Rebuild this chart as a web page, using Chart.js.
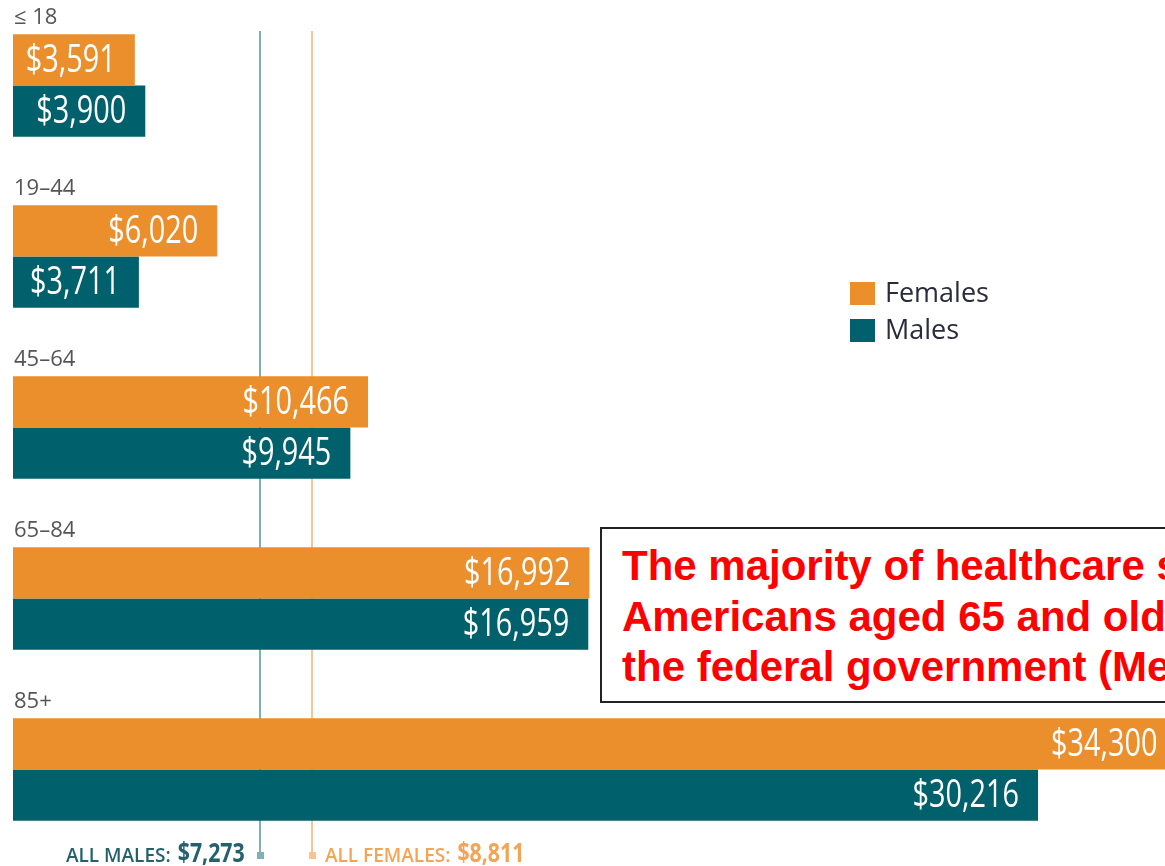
<!DOCTYPE html>
<html>
<head>
<meta charset="utf-8">
<script src="https://cdn.jsdelivr.net/npm/chart.js@4/dist/chart.umd.min.js"></script>
<style>
  html, body { margin: 0; padding: 0; background: #fff; overflow: hidden; }
  #wrap { position: relative; width: 1165px; height: 866px; }
  #legend { position: absolute; left: 850px; top: 276px; font-family: "Open Sans", sans-serif; font-size: 27px; color: #2b2b3b; }
  #legend div { height: 37px; line-height: 32px; }
  #legend span { display: inline-block; width: 25px; height: 23px; vertical-align: -3px; margin-right: 10px; }
  #note { position: absolute; left: 600px; top: 527px; width: 700px; height: 176px; border: 2px solid #222; background: #fff;
    font-family: "Liberation Sans", Arial, sans-serif; font-weight: bold; font-size: 42px; color: #ff0000;
    line-height: 50.5px; padding: 12px 0 0 20px; box-sizing: border-box; white-space: nowrap; }
</style>
</head>
<body>
<div id="wrap">
  <canvas id="chart" width="1165" height="866"></canvas>
  <div id="legend">
    <div><span style="background:#ea8f2b"></span>Females</div>
    <div><span style="background:#00606b"></span>Males</div>
  </div>
  <div id="note">The majority of healthcare spending for<br>Americans aged 65 and older is paid by<br>the federal government (Medicare)</div>
</div>
<script>
var ageGroups = ["≤ 18", "19–44", "45–64", "65–84", "85+"]
var females = [3591, 6020, 10466, 16992, 34300]
var males = [3900, 3711, 9945, 16959, 30216]
var allMales = 7273
var allFemales = 8811

var orange = "#ea8f2b"
var teal = "#00606b"

function money(v) {
  return "$" + v.toLocaleString("en-US")
}

// squeeze text horizontally, the original uses a condensed face
function narrowText(c, text, x, y, sx) {
  c.save()
  c.translate(x, y)
  c.scale(sx, 1)
  c.fillText(text, 0, 0)
  var w = c.measureText(text).width * sx
  c.restore()
  return w
}

var labelsPlugin = {
  id: "labels",
  beforeDatasetsDraw: function(chart) {
    var c = chart.ctx
    var x = chart.scales.x
    var lines = [[allMales, "#7fb0b8"], [allFemales, "#f8c58c"]]
    c.save()
    lines.forEach(function(l) {
      var px = Math.round(x.getPixelForValue(l[0]))
      c.fillStyle = l[1]
      c.fillRect(px - 1, 31, 2, 822)
      c.fillRect(px - 3, 852, 7, 7)
    })
    c.restore()
  },
  afterDatasetsDraw: function(chart) {
    var c = chart.ctx
    var x = chart.scales.x
    c.save()
    // value labels inside bar ends
    c.font = "39px 'Open Sans', sans-serif"
    c.fillStyle = "#fff"
    c.textAlign = "right"
    c.textBaseline = "middle"
    chart.data.datasets.forEach(function(ds, di) {
      chart.getDatasetMeta(di).data.forEach(function(bar, i) {
        var end = x.getPixelForValue(ds.data[i])
        narrowText(c, money(ds.data[i]), end - 19, bar.y + 1, 0.74)
      })
    })
    // category labels above each group
    c.font = "22px 'Open Sans', sans-serif"
    c.fillStyle = "#555"
    c.textAlign = "left"
    chart.getDatasetMeta(0).data.forEach(function(bar, i) {
      c.fillText(ageGroups[i], 14, bar.y - bar.height / 2 - 16)
    })
    // bottom averages
    var mx = x.getPixelForValue(allMales)
    var fx = x.getPixelForValue(allFemales)
    c.textBaseline = "alphabetic"
    var big = "bold 26px 'Open Sans', sans-serif"
    var small = "600 19px 'Open Sans', sans-serif"
    c.fillStyle = "#25616d"
    c.textAlign = "right"
    c.font = big
    var mvw = narrowText(c, money(allMales), mx - 15, 862, 0.82)
    c.font = small
    narrowText(c, "ALL MALES:", mx - 15 - mvw - 7, 862, 1.0)
    c.fillStyle = "#f2a457"
    c.textAlign = "left"
    var ftw = narrowText(c, "ALL FEMALES:", fx + 13, 862, 1.0)
    c.font = big
    narrowText(c, money(allFemales), fx + 13 + ftw + 7, 862, 0.82)
    c.restore()
  }
}

var ctx = document.getElementById("chart").getContext("2d")

var myChart = new Chart(ctx, {
  type: "bar",
  data: {
    labels: ageGroups,
    datasets: [
      { label: "Females", data: females, backgroundColor: orange },
      { label: "Males", data: males, backgroundColor: teal }
    ]
  },
  options: {
    indexAxis: "y",
    responsive: false,
    animation: false,
    layout: { padding: { left: 13, right: 0, top: 0, bottom: 11 } },
    datasets: { bar: { categoryPercentage: 0.6, barPercentage: 1.0 } },
    scales: {
      x: { display: false, min: 0, max: 33960 },
      y: { display: false }
    },
    plugins: {
      legend: { display: false },
      tooltip: { enabled: false }
    }
  },
  plugins: [labelsPlugin]
})
</script>
</body>
</html>
